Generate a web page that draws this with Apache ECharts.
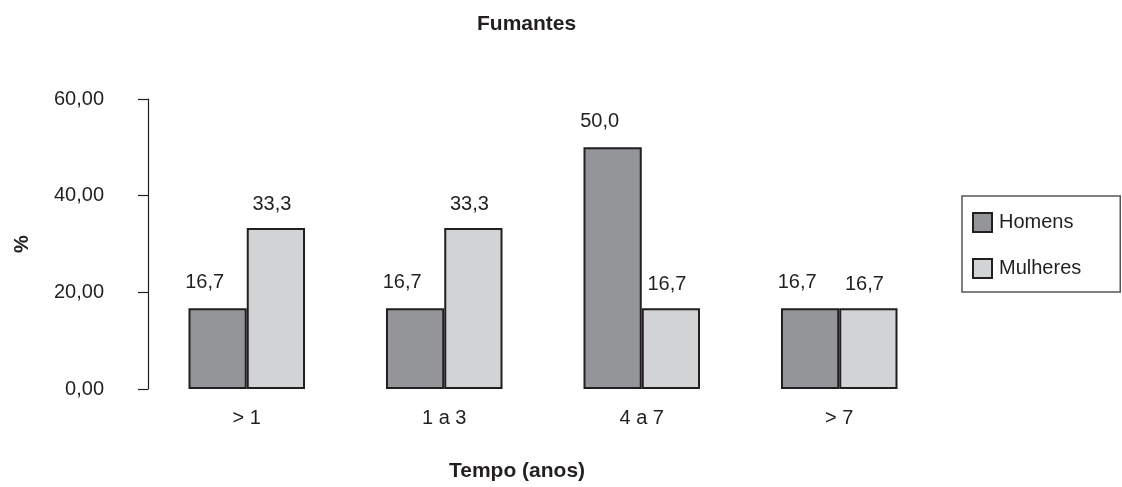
<!DOCTYPE html>
<html><head><meta charset="utf-8">
<script src="https://cdn.jsdelivr.net/npm/echarts@6/dist/echarts.min.js"></script>
<style>html,body{margin:0;padding:0;background:#fff}#c{width:1122px;height:487px}</style>
</head><body><div id="c"></div>
<script>
const categories = ['> 1', '1 a 3', '4 a 7', '> 7'];
const homens = [16.7, 16.7, 50.0, 16.7];
const mulheres = [33.3, 33.3, 16.7, 16.7];
const seriesNames = ['Homens', 'Mulheres'];
const FONT = 'Liberation Sans, Arial, sans-serif';
const fmt1 = v => v.toFixed(1).replace('.', ',');
const chart = echarts.init(document.getElementById('c'));
chart.setOption({
  animation: false,
  backgroundColor: '#fff',
  textStyle: {fontFamily: FONT, color: '#231f20'},
  title: {text: 'Fumantes', left: 472, top: 9,
    textStyle: {fontFamily: FONT, fontSize: 21, fontWeight: 'bold', color: '#231f20'}},
  grid: {left: 148, right: 184, top: 99, bottom: 97},
  legend: {
    orient: 'vertical', left: 962, top: 196,
    padding: [16, 39, 13, 10], itemWidth: 19, itemHeight: 19, itemGap: 25,
    borderColor: '#555', borderWidth: 1.5, borderRadius: 0,
    textStyle: {fontFamily: FONT, fontSize: 20, color: '#231f20', padding: [0,0,0,2]},
    data: seriesNames.map(n => ({name: n, icon: 'rect'}))
  },
  xAxis: {
    type: 'category', data: categories,
    axisLine: {show: false}, axisTick: {show: false},
    axisLabel: {fontFamily: FONT, fontSize: 20, color: '#231f20', margin: 19},
    name: 'Tempo (anos)', nameLocation: 'middle', nameGap: 72,
    nameTextStyle: {fontFamily: FONT, fontSize: 21, fontWeight: 'bold', color: '#231f20', padding: [0, 52, 0, 0]}
  },
  yAxis: {
    type: 'value', min: 0, max: 60, interval: 20,
    axisLine: {show: true, lineStyle: {color: '#231f20', width: 1.2}},
    axisTick: {show: true, length: 10, lineStyle: {color: '#231f20', width: 1.2}},
    splitLine: {show: false},
    axisLabel: {fontFamily: FONT, fontSize: 20, color: '#231f20', margin: 44,
      formatter: v => v.toFixed(2).replace('.', ',')},
    name: '%', nameLocation: 'middle', nameGap: 116, nameRotate: 90,
    nameTextStyle: {fontFamily: FONT, fontSize: 20, fontWeight: 'bold', color: '#231f20'}
  },
  series: [
    {name: seriesNames[0], type: 'bar', data: homens, barGap: '0%', barCategoryGap: '41%',
     itemStyle: {color: '#939598', borderColor: '#231f20', borderWidth: 2},
     label: {show: true, position: 'top', distance: 14, offset: [-13, -2], fontFamily: FONT, fontSize: 20, color: '#231f20', formatter: p => fmt1(p.value)}},
    {name: seriesNames[1], type: 'bar', data: mulheres, barGap: '0%', barCategoryGap: '41%',
     itemStyle: {color: '#d1d3d4', borderColor: '#231f20', borderWidth: 2},
     label: {show: true, position: 'top', distance: 14, offset: [-4, 0], fontFamily: FONT, fontSize: 20, color: '#231f20', formatter: p => fmt1(p.value)}}
  ]
});
</script></body></html>
